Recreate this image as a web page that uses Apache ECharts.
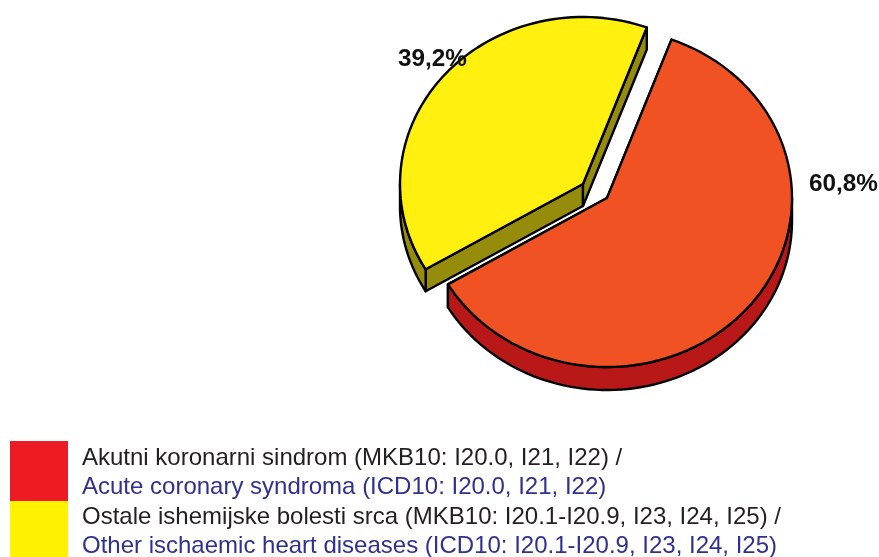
<!DOCTYPE html>
<html>
<head>
<meta charset="utf-8">
<style>
  html, body { margin: 0; padding: 0; background: #fff; }
  #pieChart { width: 879px; height: 557px; }
</style>
<script src="https://cdn.jsdelivr.net/npm/echarts@6/dist/echarts.min.js"></script>
</head>
<body>
<div id="pieChart"></div>
<script>
  const sliceValues = [60.8, 39.2];
  const sliceLabels = ['60,8%', '39,2%'];
  const legendLocal = [
    'Akutni koronarni sindrom (MKB10: I20.0, I21, I22) /',
    'Ostale ishemijske bolesti srca (MKB10: I20.1-I20.9, I23, I24, I25) /'
  ];
  const legendEnglish = [
    'Acute coronary syndroma (ICD10: I20.0, I21, I22)',
    'Other ischaemic heart diseases (ICD10: I20.1-I20.9, I23, I24, I25)'
  ];

  const topColors = ['#f15223', '#fff00f'];
  const sideColors = ['#b91818', '#968c0c'];
  const swatchColors = ['#ed1c24', '#fff200'];

  // the pie is squashed, so each slice has its own centre (exploded) and an ellipse
  const centers = [[607, 198], [583, 184]];
  const labelAnchors = [[809, 184], [398, 59]];
  const radiiX = [185, 183];
  const radiiY = [169, 167];
  const depths = [23, 22];
  const startAngle = 20.4;

  function arcPoints(index, from, to, dy) {
    const center = centers[index];
    const points = [];
    const steps = Math.max(2, Math.ceil(Math.abs(to - from) / 2));
    for (let i = 0; i <= steps; i++) {
      const t = (from + (to - from) * i / steps) * Math.PI / 180;
      points.push([center[0] + Math.sin(t) * radiiX[index], center[1] - Math.cos(t) * radiiY[index] + dy]);
    }
    return points;
  }

  function polygon(points, fill, z) {
    return {
      type: 'polygon',
      z2: z,
      shape: { points: points },
      style: { fill: fill, stroke: '#000', lineWidth: 2.4, lineJoin: 'round' }
    };
  }

  function renderSlice(params, api) {
    const index = params.dataIndex;
    const total = sliceValues.reduce((a, b) => a + b, 0);
    let from = startAngle;
    for (let i = 0; i < index; i++) {
      from += sliceValues[i] / total * 360;
    }
    const to = from + api.value(0) / total * 360;
    const center = centers[index];
    const depth = depths[index];
    const children = [];

    // the two cut faces, anything hidden gets covered by the top later
    [from, to].forEach(angle => {
      const edge = arcPoints(index, angle, angle, 0)[0];
      children.push(polygon([
        center, edge, [edge[0], edge[1] + depth], [center[0], center[1] + depth]
      ], sideColors[index], 1));
    });

    // outer rim, only the front half of the ellipse shows
    const rimFrom = Math.max(from, 90);
    const rimTo = Math.min(to, 270);
    if (rimTo > rimFrom) {
      const upper = arcPoints(index, rimFrom, rimTo, 0);
      const lower = arcPoints(index, rimFrom, rimTo, depth).reverse();
      children.push(polygon(upper.concat(lower), sideColors[index], 2));
    }

    children.push(polygon([center].concat(arcPoints(index, from, to, 0)), topColors[index], 3));

    children.push({
      type: 'text',
      z2: 4,
      style: {
        text: sliceLabels[index],
        x: labelAnchors[index][0],
        y: labelAnchors[index][1],
        fill: '#111',
        font: 'bold 24.3px "Liberation Sans", Arial, sans-serif',
        textAlign: 'left',
        textVerticalAlign: 'middle'
      }
    });
    return { type: 'group', children: children };
  }

  const legendTop = [441, 501];
  const legendHeight = [60, 56];
  const lineY = [458, 487, 517, 546];
  const legendGraphics = [];
  swatchColors.forEach((color, i) => {
    legendGraphics.push({
      type: 'rect',
      shape: { x: 10, y: legendTop[i], width: 58, height: legendHeight[i] },
      style: { fill: color }
    });
    [[legendLocal[i], '#231f20'], [legendEnglish[i], '#2e3192']].forEach((line, j) => {
      legendGraphics.push({
        type: 'text',
        style: {
          text: line[0],
          x: 82,
          y: lineY[i * 2 + j],
          fill: line[1],
          font: '24px "Liberation Sans", Arial, sans-serif',
          textAlign: 'left',
          textVerticalAlign: 'middle'
        }
      });
    });
  });

  const chartInstance = echarts.init(document.getElementById('pieChart'));
  chartInstance.setOption({
    animation: false,
    graphic: legendGraphics,
    series: [{
      type: 'custom',
      coordinateSystem: 'none',
      renderItem: renderSlice,
      data: sliceValues.map(v => [v])
    }]
  });
</script>
</body>
</html>
